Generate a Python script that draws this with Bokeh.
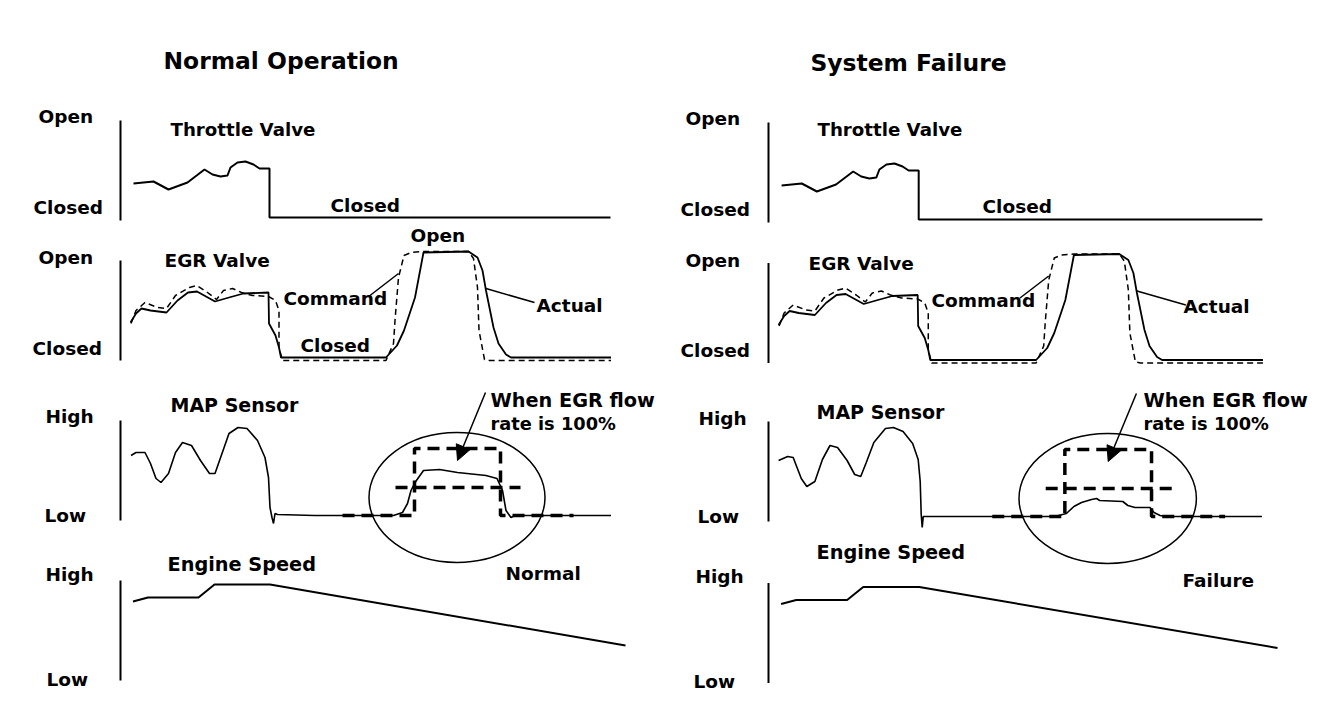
from bokeh.plotting import figure
from bokeh.models import Range1d, Arrow, NormalHead
from bokeh.core.properties import value
from bokeh.embed import file_html
from bokeh.resources import INLINE

# ---------------- data (time units, level in % of axis height) ----------------
axis_t = [0, 0]
axis_lvl = [0, 100]

throttle_t = [2.6, 6.6, 9.6, 13.4, 16.8, 18.4, 20.0, 21.4, 22.0, 23.4, 25.0, 26.6, 27.8, 29.8, 29.8, 98.0]
throttle_lvl = [37, 39, 31, 38, 51, 46, 44, 45, 53, 58, 59, 56, 52, 52, 3, 3]

egr_actual_t = [2.0, 3.1, 4.2, 6.0, 9.2, 11.4, 13.5, 15.3, 18.9, 21.7, 24.6, 29.6, 29.7, 31.0, 31.7, 32.1,
                53.1, 55.3, 56.7, 58.9, 60.6, 69.6, 71.4, 72.4, 73.1, 74.6, 75.6, 77.1, 78.1, 98.1]
egr_actual_lvl = [38, 47, 52, 50, 48, 60, 68, 69, 59, 63, 67, 68, 37, 25, 13, 3,
                  3, 15, 30, 63, 108, 109, 103, 90, 70, 33, 17, 6, 3, 3]

egr_command_t = [2.1, 3.1, 4.9, 7.4, 9.2, 11.0, 13.8, 15.3, 17.4, 19.2, 20.6, 22.4, 24.2, 26.4, 29.6, 31.0,
                 31.7, 31.7, 32.4, 53.1, 54.6, 54.9, 55.6, 56.7, 58.1, 60.6, 69.6, 70.6, 71.4, 71.7, 72.8,
                 73.8, 98.1]
egr_command_lvl = [37, 50, 58, 53, 52, 65, 73, 75, 68, 61, 70, 72, 68, 65, 64, 60,
                   50, 13, 0, 0, 17, 40, 83, 105, 108, 109, 109, 102, 73, 30, 1,
                   0, 0]

map_normal_t = [2.1, 3.1, 4.9, 6.0, 7.1, 8.1, 9.6, 11.0, 12.4, 14.2, 16.0, 17.8, 18.9, 20.3, 21.7, 23.5,
                25.3, 27.4, 28.9, 29.6, 29.9, 30.3, 30.6, 30.9, 31.4, 38.8, 54.6, 56.4, 57.4, 58.1,
                58.9, 60.6, 63.8, 67.4, 73.1, 75.3, 76.4, 77.1, 78.1, 78.9, 98.1]
map_normal_lvl = [65, 68, 68, 57, 42, 38, 47, 68, 78, 75, 60, 47, 47, 67, 87, 93,
                  92, 80, 63, 43, 13, 3, -3, 7, 6, 5, 5, 8, 17, 30,
                  38, 50, 51, 48, 45, 42, 30, 10, 3, 5, 5]

map_failure_t = [2.0, 3.8, 4.9, 6.5, 7.6, 9.2, 10.7, 12.2, 13.7, 15.6, 17.1, 18.3, 19.4, 20.9, 23.2, 24.8,
                 26.7, 28.6, 29.7, 30.1, 30.3, 30.5, 30.7, 31.6, 56.8, 59.1, 60.6, 62.1, 64.1, 65.1,
                 65.7, 70.3, 71.3, 72.7, 75.7, 76.5, 77.7, 78.7, 97.9]
map_failure_lvl = [61, 65, 64, 43, 35, 40, 62, 76, 74, 61, 47, 45, 59, 79, 93, 94,
                   90, 78, 62, 40, 7, -6, 5, 5, 5, 8, 15, 19, 22, 23,
                   21, 20, 16, 14, 14, 9, 6, 5, 5]

engine_t = [2.5, 5.5, 15.6, 18.8, 29.9, 101.0]
engine_lvl = [79, 83, 83, 96, 96, 35]

flow_step_t = [44.4, 58.8, 58.8, 76.0, 76.0, 90.6]
flow_step_lvl = [5, 5, 72, 72, 5, 5]
flow_mid_t = [55.0, 80.0]
flow_mid_lvl = [33, 33]

ellipse_t, ellipse_lvl, ellipse_w, ellipse_h = [67.3], [23], [35.2], [130]
arrow_t = [73.0, 67.4]
arrow_lvl = [128, 60]

cmd_leader_t, cmd_leader_lvl = [49.9, 55.6], [65, 87]
act_leader_t, act_leader_lvl = [73.1, 82.8], [72, 58]

# ---------------- layout ----------------
W, H = 1328, 692
cols = {"L": dict(x0=120, sx=5.0), "R": dict(x0=768, sx=5.04)}
rows = {"L": dict(thr=220, egr=360, map=520, eng=680),
        "R": dict(thr=222, egr=362.5, map=521, eng=682.5)}

p = figure(width=W, height=H, output_backend="svg", toolbar_location=None,
           x_range=Range1d(0, W), y_range=Range1d(H, 0),
           x_axis_location=None, y_axis_location=None, min_border=0,
           outline_line_color=None, background_fill_color="white",
           border_fill_color="white", title=None)
p.grid.visible = False

for c, cc in cols.items():
    p.extra_x_ranges["x" + c] = Range1d(-cc["x0"] / cc["sx"], (W - cc["x0"]) / cc["sx"])
    for r, yb in rows[c].items():
        p.extra_y_ranges[r + c] = Range1d(yb - H, yb)

K = "black"
for c in cols:
    xr = "x" + c
    for r in rows[c]:
        p.line(axis_t, axis_lvl, x_range_name=xr, y_range_name=r + c, line_color=K, line_width=2)
    p.line(throttle_t, throttle_lvl, x_range_name=xr, y_range_name="thr" + c, line_color=K, line_width=2)
    p.line(egr_command_t, egr_command_lvl, x_range_name=xr, y_range_name="egr" + c, line_color=K,
           line_width=1.5, line_dash="6 4")
    p.line(egr_actual_t, egr_actual_lvl, x_range_name=xr, y_range_name="egr" + c, line_color=K, line_width=1.8)
    p.line(cmd_leader_t, cmd_leader_lvl, x_range_name=xr, y_range_name="egr" + c, line_color=K, line_width=1.5)
    p.line(act_leader_t, act_leader_lvl, x_range_name=xr, y_range_name="egr" + c, line_color=K, line_width=1.5)
    mp = map_normal_lvl if c == "L" else map_failure_lvl
    mt = map_normal_t if c == "L" else map_failure_t
    p.line(mt, mp, x_range_name=xr, y_range_name="map" + c, line_color=K, line_width=1.6)
    p.line(flow_step_t, flow_step_lvl, x_range_name=xr, y_range_name="map" + c, line_color=K,
           line_width=3.5, line_dash="12 7")
    p.line(flow_mid_t, flow_mid_lvl, x_range_name=xr, y_range_name="map" + c, line_color=K,
           line_width=3.5, line_dash="12 7")
    p.ellipse(x=ellipse_t, y=ellipse_lvl, width=ellipse_w, height=ellipse_h, x_range_name=xr,
              y_range_name="map" + c, fill_color=None, line_color=K, line_width=1.5)
    p.add_layout(Arrow(end=NormalHead(size=15, fill_color=K, line_color=K), x_start=arrow_t[0],
                       y_start=arrow_lvl[0], x_end=arrow_t[1], y_end=arrow_lvl[1], line_width=1.5,
                       line_color=K, x_range_name=xr, y_range_name="map" + c))
    p.line(engine_t, engine_lvl, x_range_name=xr, y_range_name="eng" + c, line_color=K, line_width=2)

# ---------------- texts ----------------
labels_left = ["Normal Operation", "Open", "Closed", "Throttle Valve", "Closed", "Open", "Closed",
               "EGR Valve", "Command", "Closed", "Open", "Actual", "High", "Low", "MAP Sensor",
               "When EGR flow", "rate is 100%", "High", "Low", "Engine Speed", "Normal"]
pos_left = [(163, 60), (38, 116), (33, 207), (170, 129), (330, 205), (38, 257), (32, 348),
            (164, 260), (283, 298), (300, 345), (410, 235), (536, 305), (45, 416), (44, 515),
            (170, 404), (490, 400), (490, 423), (45, 574), (46, 679), (167, 564), (505, 573)]
labels_right = ["System Failure", "Open", "Closed", "Throttle Valve", "Closed", "Open", "Closed",
                "EGR Valve", "Command", "Actual", "High", "Low", "MAP Sensor",
                "When EGR flow", "rate is 100%", "High", "Low", "Engine Speed", "Failure"]
pos_right = [(810, 62), (685, 118), (680, 209), (817, 129), (982, 206), (685, 260), (680, 350),
             (808, 263), (931, 300), (1183, 306), (698, 418), (697, 516), (816, 411),
             (1143, 400), (1143, 423), (695, 576), (693, 681), (816, 552), (1182, 580)]

size_of = {"Normal Operation": "23.4px", "System Failure": "23.4px", "When EGR flow": "19.3px",
           "MAP Sensor": "19px", "Engine Speed": "19.3px", "rate is 100%": "17.8px",
           "Throttle Valve": "18.2px"}
labels = labels_left + labels_right
pos = pos_left + pos_right
sizes = [size_of.get(t, "18.5px") for t in labels]
p.text(x=[q[0] for q in pos], y=[q[1] for q in pos], text=labels, text_font=value("DejaVu Sans"),
       text_font_style="bold", text_font_size=sizes, text_align="left", text_baseline="alphabetic",
       text_color=K)

open("out.html", "w").write(file_html(p, INLINE))
